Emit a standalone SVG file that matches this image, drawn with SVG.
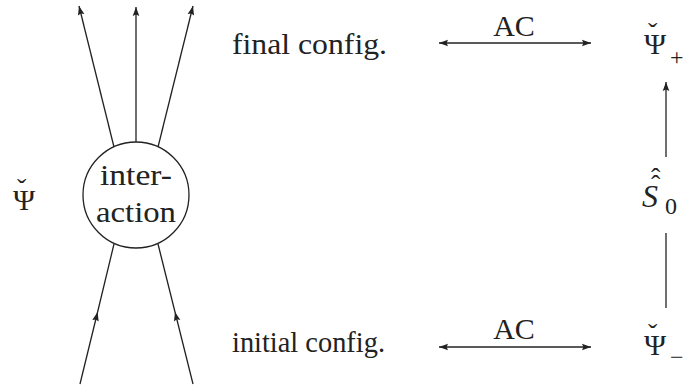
<svg xmlns="http://www.w3.org/2000/svg" width="685" height="387" viewBox="0 0 685 387">
  <defs>
    <style>
      .t { font-family: "Liberation Serif", "Times New Roman", serif; font-size: 30px; fill: #222; }
      .s { font-size: 24px; }
      .acc { font-size: 28px; }
      .ln { stroke: #222; stroke-width: 1.3; fill: none; }
    </style>
    <marker id="ah" viewBox="-10 -5 10 10" refX="0" refY="0" markerWidth="10" markerHeight="10"
            markerUnits="userSpaceOnUse" orient="auto-start-reverse">
      <path d="M-9,-3.3 L0,0 L-9,3.3 L-7.6,0 z" fill="#222"/>
    </marker>
    <marker id="am" viewBox="-10 -5 10 10" refX="0" refY="0" markerWidth="10" markerHeight="10"
            markerUnits="userSpaceOnUse" orient="auto">
      <path d="M-9,-3.3 L0,0 L-9,3.3 L-7.6,0 z" fill="#222"/>
    </marker>
  </defs>

  <!-- left state label -->
  <g id="psi-left">
    <text class="t" x="13" y="210">Ψ<tspan class="acc" x="17" y="198">ˇ</tspan></text>
  </g>

  <!-- interaction vertex -->
  <g id="interaction">
    <circle cx="136" cy="195" r="53" class="ln"/>
    <text class="t" x="136" y="185" text-anchor="middle" textLength="72" lengthAdjust="spacingAndGlyphs">inter-</text>
    <text class="t" x="136" y="222" text-anchor="middle" textLength="80" lengthAdjust="spacingAndGlyphs">action</text>
  </g>

  <g id="final-config">
    <text class="t" x="232" y="54" textLength="155" lengthAdjust="spacingAndGlyphs">final config.</text>
  </g>
  <g id="initial-config">
    <text class="t" x="232" y="352" textLength="153" lengthAdjust="spacingAndGlyphs">initial config.</text>
  </g>

  <g id="psi-plus">
    <text class="t" x="644" y="54">Ψ<tspan class="acc" x="648" y="42">ˇ</tspan><tspan class="s" x="670" y="65">+</tspan></text>
  </g>
  <g id="psi-minus">
    <text class="t" x="644" y="355">Ψ<tspan class="acc" x="648" y="343">ˇ</tspan><tspan class="s" x="670" y="365">−</tspan></text>
  </g>

  <g id="s-matrix">
    <text class="t" x="642" y="207"><tspan font-style="italic" font-size="32">S</tspan><tspan class="acc" x="651" y="194">ˆ</tspan><tspan class="acc" x="651" y="187">ˆ</tspan><tspan class="s" x="665" y="214">0</tspan></text>
  </g>

  <!-- connectors -->
  <g id="connectors">
    <!-- outgoing lines -->
    <path class="ln" d="M136,142 L136,7" marker-end="url(#ah)"/>
    <path class="ln" d="M114,147 L79,6" marker-end="url(#ah)"/>
    <path class="ln" d="M158,147 L193,6" marker-end="url(#ah)"/>
    <!-- incoming lines with mid arrows -->
    <path class="ln" d="M80,384 L97.6,312 L114,244" marker-mid="url(#am)"/>
    <path class="ln" d="M193,384 L175,312 L158,244" marker-mid="url(#am)"/>
    <!-- AC correspondences -->
    <path class="ln" d="M439,43 L591,43" marker-start="url(#ah)" marker-end="url(#ah)"/>
    <text class="t" x="514" y="36" text-anchor="middle">AC</text>
    <path class="ln" d="M439,347 L591,347" marker-start="url(#ah)" marker-end="url(#ah)"/>
    <text class="t" x="514" y="339" text-anchor="middle">AC</text>
    <!-- S-matrix mapping -->
    <path class="ln" d="M666,157 L666,82" marker-end="url(#ah)"/>
    <path class="ln" d="M666,233 L666,308"/>
  </g>
</svg>
